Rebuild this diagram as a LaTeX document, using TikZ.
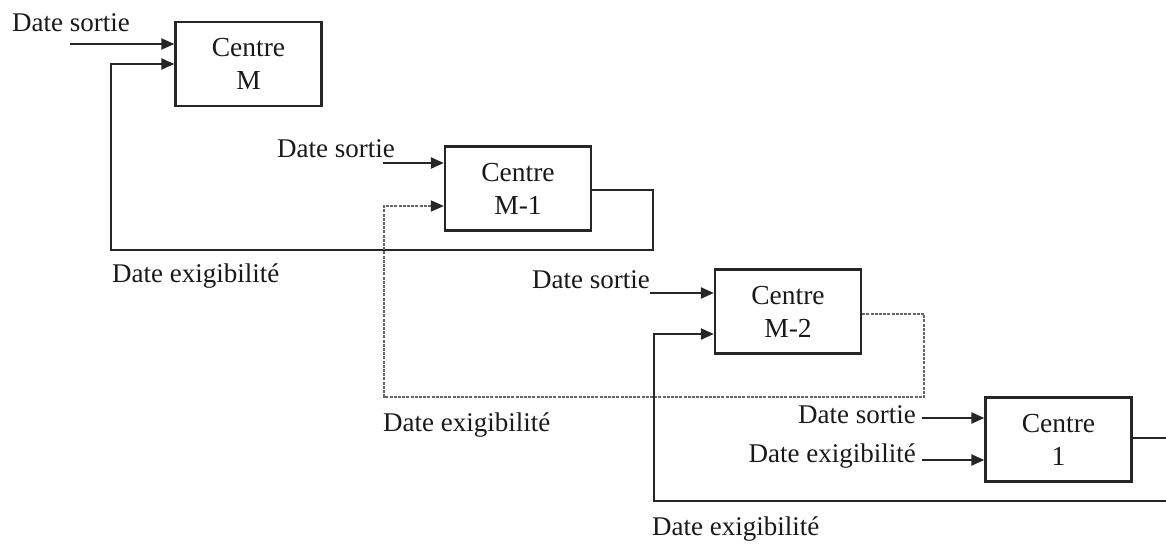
\documentclass[tikz,border=0pt]{standalone}
\usepackage{fontspec}
\setmainfont{Liberation Serif}
\usetikzlibrary{arrows.meta}
\begin{document}
\begin{tikzpicture}[x=1pt,y=-1pt,
  centrebox/.style={draw=black!85, line width=2.3pt, minimum width=146pt, minimum height=84pt,
    align=center, inner sep=0pt, font=\fontsize{27.5}{33}\selectfont, text=black!90},
  lbl/.style={inner sep=0pt, font=\fontsize{27}{33}\selectfont, text=black!90},
  flow/.style={draw=black!85, line width=2.3pt, -{Triangle[length=13pt,width=11pt]}},
  wire/.style={draw=black!85, line width=2.3pt},
  backflow/.style={draw=black!60, line width=1.8pt, dash pattern=on 3pt off 1.2pt},
  backarrow/.style={backflow, -{Triangle[length=13pt,width=11pt,color=black!85,fill=black!85]}}]
\useasboundingbox (0,0) rectangle (1166,543);

% processing centres
\node[centrebox] (cM)  at (248.5,64)  {Centre\\M};
\node[centrebox] (cM1) at (518,188.5) {Centre\\M-1};
\node[centrebox] (cM2) at (788,311.5) {Centre\\M-2};
\node[centrebox] (c1)  at (1058.5,439.5) {Centre\\1};

% labels
\node[lbl, anchor=base west] (sM)  at (12,32)   {Date sortie};
\node[lbl, anchor=base west] (sM1) at (277,157) {Date sortie};
\node[lbl, anchor=base east] (sM2) at (650,288) {Date sortie};
\node[lbl, anchor=base east] (s1)  at (916,423) {Date sortie};
\node[lbl, anchor=base east] (e1)  at (916,462) {Date exigibilit\'e};
\node[lbl, anchor=base west] (eM1) at (112,282) {Date exigibilit\'e};
\node[lbl, anchor=base west] (eM2) at (383,431) {Date exigibilit\'e};
\node[lbl, anchor=base west] (eB)  at (652,535) {Date exigibilit\'e};

% free ends of the input lines
\coordinate (inM)   at (70,44);
\coordinate (inM1)  at (383,163);
\coordinate (inM2)  at (650,293);
\coordinate (in1s)  at (922,418);
\coordinate (in1e)  at (922,460);

% loop corners
\coordinate (aOut) at (653,190);
\coordinate (aDn)  at (653,250);
\coordinate (aLft) at (111,250);
\coordinate (aUp)  at (111,64);

\coordinate (bOut) at (924,314);
\coordinate (bDn)  at (924,397);
\coordinate (bLft) at (384,397);
\coordinate (bUp)  at (384,206);

\coordinate (cOut) at (1166,438);
\coordinate (cIn)  at (1166,501);
\coordinate (cLft) at (654,501);
\coordinate (cUp)  at (654,334);

% release dates
\draw[flow] (inM)  -- (inM -| cM.west);
\draw[flow] (inM1) -- (inM1 -| cM1.west);
\draw[flow] (inM2) -- (inM2 -| cM2.west);
\draw[flow] (in1s) -- (in1s -| c1.west);
\draw[flow] (in1e) -- (in1e -| c1.west);

% due date from centre M-1 back to centre M
\draw[flow] (aOut -| cM1.east) -- (aOut) -- (aDn) -- (aLft) -- (aUp) -- (aUp -| cM.west);

% due date from centre M-2 back to centre M-1
\draw[backarrow] (bOut -| cM2.east) -- (bOut) -- (bDn) -- (bLft) -- (bUp) -- (bUp -| cM1.west);

% due date from centre 1 back to centre M-2
\draw[wire] (cOut -| c1.east) -- (cOut);
\draw[flow] (cIn) -- (cLft) -- (cUp) -- (cUp -| cM2.west);
\end{tikzpicture}
\end{document}
